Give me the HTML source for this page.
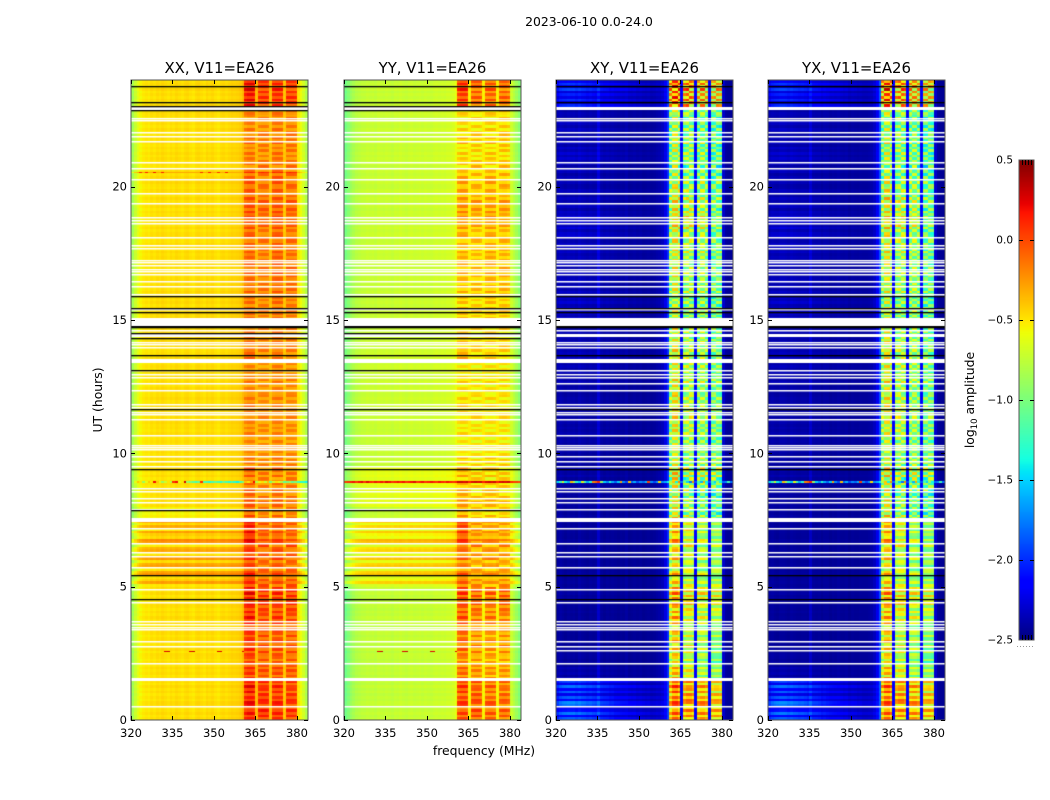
<!DOCTYPE html>
<html>
<head>
<meta charset="utf-8">
<title>2023-06-10 0.0-24.0</title>
<style>
html,body{margin:0;padding:0;background:#fff;}
#fig{position:relative;width:1050px;height:800px;overflow:hidden;background:#fff;font-family:"DejaVu Sans","Liberation Sans",sans-serif;}
canvas{position:absolute;display:block;}
svg{position:absolute;left:0;top:0;}
svg text{font-family:"DejaVu Sans","Liberation Sans",sans-serif;fill:#000;}
</style>
</head>
<body>
<div id="fig">
<canvas id="c0" width="177" height="640" style="left:131px;top:80px"></canvas>
<canvas id="c1" width="177" height="640" style="left:344px;top:80px"></canvas>
<canvas id="c2" width="177" height="640" style="left:556px;top:80px"></canvas>
<canvas id="c3" width="177" height="640" style="left:768px;top:80px"></canvas>
<canvas id="cbar" width="15" height="480" style="left:1019px;top:160px"></canvas>
<svg id="ov" width="1050" height="800">
<text x="589" y="26" font-size="12.4" text-anchor="middle">2023-06-10 0.0-24.0</text>
<text x="484" y="755" font-size="12.4" text-anchor="middle">frequency (MHz)</text>
<text transform="translate(102,400) rotate(-90)" font-size="12.4" text-anchor="middle">UT (hours)</text>
<text transform="translate(974,400) rotate(-90)" font-size="12.4" text-anchor="middle">log<tspan font-size="8.5" dy="3">10</tspan><tspan dy="-3"> amplitude</tspan></text>
</svg>
</div>
<script>
// ---- categories / ticks ----
const panelTitles = ["XX, V11=EA26","YY, V11=EA26","XY, V11=EA26","YX, V11=EA26"];
const freqTicks = [320,335,350,365,380];
const hourTicks = [0,5,10,15,20];
const cbarTicks = [-2.5,-2.0,-1.5,-1.0,-0.5,0.0,0.5];
const cbarTickLabels = ["\u22122.5","\u22122.0","\u22121.5","\u22121.0","\u22120.5","0.0","0.5"];

// ---- channel band membership, 320..384 MHz (-1 = outside the bright bands) ----
const channelBand = [
-1,-1,-1,-1,-1,-1,-1,-1,-1,-1, -1,-1,-1,-1,-1,-1,-1,-1,-1,-1,
-1,-1,-1,-1,-1,-1,-1,-1,-1,-1, -1,-1,-1,-1,-1,-1,-1,-1,-1,-1,
-1, 0,0,0,0, -1, 1,1,1,1, -1, 2,2,2,2, -1, 3,3,3,3, -1,-1,-1,-1,-1];

// ---- mean log10 amplitude per channel ----
const spectrumXX = [
-0.82,-0.68,-0.58,-0.52,-0.48,-0.46,-0.48,-0.44,-0.46,-0.43,
-0.45,-0.42,-0.44,-0.46,-0.43,-0.45,-0.42,-0.44,-0.46,-0.43,
-0.42,-0.45,-0.47,-0.43,-0.42,-0.44,-0.46,-0.42,-0.44,-0.42,
-0.45,-0.47,-0.43,-0.42,-0.44,-0.42,-0.40,-0.41,-0.40,-0.38,
-0.32,-0.10,-0.06,-0.06,-0.08,-0.32,-0.12,-0.10,-0.10,-0.12,
-0.34,-0.10,-0.08,-0.08,-0.10,-0.36,-0.10,-0.10,-0.10,-0.12,
-0.46,-0.55,-0.65,-0.78,-0.90];
const spectrumYY = [
-1.05,-0.98,-0.90,-0.85,-0.80,-0.78,-0.76,-0.76,-0.74,-0.75,
-0.74,-0.76,-0.73,-0.74,-0.75,-0.73,-0.74,-0.76,-0.73,-0.74,
-0.72,-0.74,-0.75,-0.73,-0.72,-0.74,-0.73,-0.72,-0.74,-0.72,
-0.73,-0.74,-0.72,-0.71,-0.72,-0.71,-0.72,-0.70,-0.70,-0.68,
-0.62,-0.32,-0.28,-0.28,-0.30,-0.55,-0.32,-0.30,-0.30,-0.34,
-0.55,-0.34,-0.32,-0.32,-0.34,-0.55,-0.32,-0.30,-0.30,-0.34,
-0.72,-0.80,-0.88,-0.98,-1.08];
const spectrumXY = [
-2.44,-2.42,-2.44,-2.46,-2.44,-2.45,-2.44,-2.46,-2.42,-2.44,
-2.45,-2.46,-2.44,-2.45,-2.44,-2.32,-2.44,-2.46,-2.44,-2.45,
-2.44,-2.45,-2.46,-2.44,-2.45,-2.42,-2.46,-2.45,-2.44,-2.45,
-2.44,-2.46,-2.45,-2.44,-2.45,-2.44,-2.42,-2.40,-2.36,-2.25,
-2.00,-1.00,-0.72,-0.70,-0.85,-2.15,-0.95,-0.85,-0.85,-0.95,
-2.15,-0.98,-0.90,-0.90,-1.00,-2.15,-1.00,-0.95,-0.95,-1.00,
-2.30,-2.42,-2.44,-2.44,-2.45];
const spectrumYX = [
-2.44,-2.43,-2.45,-2.46,-2.44,-2.44,-2.45,-2.46,-2.43,-2.44,
-2.45,-2.45,-2.44,-2.44,-2.45,-2.34,-2.44,-2.45,-2.44,-2.46,
-2.44,-2.44,-2.46,-2.44,-2.45,-2.43,-2.45,-2.45,-2.44,-2.46,
-2.44,-2.45,-2.45,-2.44,-2.44,-2.44,-2.43,-2.40,-2.35,-2.22,
-1.90,-0.98,-0.74,-0.72,-0.86,-2.15,-0.95,-0.86,-0.86,-0.96,
-2.15,-0.96,-0.92,-0.92,-1.02,-2.15,-1.00,-0.98,-0.96,-1.02,
-2.30,-2.42,-2.44,-2.45,-2.45];
const crossBump = [
0.7,0.85,0.95,1,1,1,1,0.95,0.95,0.9,
0.9,0.85,0.85,0.8,0.75,0.75,0.7,0.7,0.65,0.6,
0.6,0.55,0.55,0.5,0.5,0.45,0.45,0.4,0.4,0.35,
0.35,0.35,0.3,0.3,0.25,0.25,0.25,0.2,0.2,0.2,
0.1,0,0,0,0,0,0,0,0,0,
0,0,0,0,0,0,0,0,0,0,
0,0,0,0,0];

// ---- half-hourly levels, 0..24 h ----
const bgLevelXX = [
-.04,-.04,-.04,-.04,-.04,-.04,-.04,-.04,-.04,-.04,
.06,.08,.06,.08,.06,-.1,-.04,-.04,-.04,-.04,
-.04,-.04,-.03,-.04,-.03,-.04,-.04,-.04,-.02,-.02,
-.02,-.03,-.03,-.04,-.04,-.04,-.04,-.04,-.04,-.04,
-.03,-.04,-.04,-.04,-.04,-.04,-.04,-.03];
const bgLevelYY = [
0,0,0,0,0,0,0,0,0,0,
.2,.24,.22,.24,.22,.02,.12,.12,.12,.02,
.02,.02,.03,.03,.03,.03,.04,.04,.03,.03,
.03,.02,.02,.02,.02,.02,.03,.03,.02,.02,
.02,.02,.02,.02,.02,.02,.01,.01];
const crossLift = [
.46,.48,.42,.06,.03,.02,.01,.01,.02,.03,
.02,.02,.02,.02,.02,.03,.03,.04,.05,.04,
.05,.06,.06,.06,.05,.07,.08,.1,.07,.07,
.12,.13,.1,.09,.09,.1,.13,.14,.1,.08,
.07,.09,.12,.09,.1,.07,.3,.34];

const bandDevParallel = [
[.14,.16,.16,.08,.05,.1,.08,.12,.14,.18,.1,.04,.08,.16,.18,-.02,-.02,-.08,-.06,-.12,-.16,-.14,-.14,-.12,-.14,-.14,-.18,-.04,-.1,-.14,-.08,-.1,-.08,-.06,-.06,-.08,-.04,0,.02,-.04,-.04,-.1,-.14,-.1,-.14,-.14,.16,.2],
[.14,.14,.12,.02,0,.04,.02,.08,.1,.14,.02,-.04,0,.04,.02,-.1,-.08,-.14,-.12,-.14,-.16,-.16,-.14,-.14,-.14,-.16,-.18,-.1,-.12,-.14,-.1,-.1,-.08,-.08,-.06,-.08,-.06,-.02,0,-.06,-.06,-.08,-.12,-.1,-.12,-.12,.1,.12],
[.12,.12,.1,.02,0,.02,0,.06,.08,.12,0,-.02,.02,.02,0,-.08,-.04,-.1,-.1,-.1,-.12,-.14,-.12,-.14,-.12,-.14,-.14,-.08,-.1,-.12,-.06,-.06,-.04,-.02,-.02,-.04,-.02,.02,.02,-.04,-.02,-.06,-.1,-.08,-.1,-.1,.1,.12],
[.1,.1,.08,0,-.02,.02,0,.06,.1,.14,.02,-.04,0,.02,0,-.1,-.08,-.12,-.12,-.12,-.14,-.16,-.14,-.14,-.14,-.14,-.16,-.1,-.1,-.12,-.08,-.08,-.06,-.04,-.04,-.06,-.04,-.02,0,-.06,-.04,-.08,-.1,-.08,-.1,-.1,.1,.1]];
const bandDevCross = [
[.5,.55,.55,.3,.2,.25,.2,.3,.35,.45,.25,.15,.25,.35,.35,.1,.05,0,.1,0,0,.05,.1,.15,.1,.1,.05,.15,.05,0,0,-.05,0,.05,.05,.05,.1,.15,.1,.05,-.05,-.1,-.1,-.05,-.1,-.05,.5,.55],
[.5,.55,.5,.2,.1,.15,.1,.2,.3,.35,.15,.1,.15,.2,.25,0,-.05,-.05,0,-.05,0,.05,.1,.1,.05,.05,.05,.1,0,-.05,-.05,-.05,0,0,0,.05,.1,.2,.1,0,-.1,-.1,-.05,-.05,-.1,-.05,.45,.5],
[.55,.55,.5,.1,.05,.1,.05,.15,.2,.3,.1,.05,.1,.1,.1,-.05,-.1,-.05,.1,.05,0,0,.05,.05,0,.05,.05,.1,.05,0,.05,0,.05,.05,.05,.05,.1,.2,.1,0,0,-.05,-.05,-.05,-.1,-.05,.4,.45],
[.5,.5,.4,.05,-.05,0,.05,.15,.25,.35,.15,.05,.1,.1,.1,-.15,-.15,-.1,.05,.05,-.05,-.05,0,0,-.05,0,-.05,0,-.05,-.1,-.05,-.1,-.05,-.05,-.05,-.05,-.05,0,-.05,-.1,-.1,-.15,-.15,-.1,-.15,-.1,.35,.4]];

// ---- row-to-row striping at 0.1 h, hundredths of a dex ----
const rippleA = [
12,-14,20,-8,-18,16,22,-12,10,-20,
18,-10,24,-16,8,20,-22,14,-6,16,
-14,10,-20,6,14,-24,18,-10,-16,22,
8,-18,12,20,-10,-22,16,-6,24,-12,
14,-20,8,18,-16,10,-24,22,-8,12,
-18,16,-6,-14,22,10,-20,14,8,-16,
20,-10,-18,12,6,-22,18,24,-14,-8,
16,-20,10,-12,14,-6,18,-16,8,-10,
12,-8,16,-14,6,-18,20,-10,14,-6,
-22,18,-12,8,20,-16,10,-6,14,-12,
6,-10,14,-8,10,-14,8,12,-10,6,
-12,8,16,-6,-14,10,-8,12,6,-10,
14,-8,-12,10,6,-14,16,-6,8,-12,
10,-6,14,-10,8,12,-14,6,-8,10,
-12,14,-6,8,-10,16,-8,12,-14,6,
10,-14,8,-6,12,-16,14,-8,6,-12,
16,-10,8,-14,12,6,-10,14,-8,-12,
8,14,-12,10,-6,16,-14,8,12,-10,
-16,12,8,-14,18,-10,6,-12,16,-8,
14,-18,10,8,-12,20,-14,6,16,-10,
-12,18,-8,14,-16,10,12,-20,8,-6,
14,-10,18,-12,6,-16,20,-8,12,-14,
-10,16,-14,8,12,-18,6,14,-10,-8,
20,-14,22,-10,16,-18,24,-12,18,-8];
const rippleB = [
-16,18,-8,22,-12,-20,14,18,-10,16,
-22,12,8,-18,20,-14,10,-8,18,-12,
14,-20,16,-10,-6,18,-16,22,-12,8,
-14,20,-10,6,16,-18,-8,14,-20,10,
-6,12,-18,20,8,-14,16,-22,14,-10,
18,-12,10,-20,-8,14,16,-18,6,12,
-14,18,8,-16,-10,20,-12,14,-20,6,
-8,14,-16,10,-6,18,-10,6,-14,12,
-10,14,-6,12,-16,8,-14,16,-8,10,
16,-14,18,-10,-12,14,-6,10,-16,8,
-8,12,-6,10,-14,8,-10,-6,14,-8,
10,-12,-6,14,10,-8,12,-10,-6,8,
-10,12,8,-14,-6,10,-12,14,-8,6,
-12,8,-10,12,-6,-10,8,-14,12,-6,
10,-8,12,-14,6,-10,14,-6,10,-8,
-12,8,-10,14,-6,10,-12,6,-14,8,
-10,14,-6,12,-14,-8,12,-6,10,14,
-12,-8,10,-14,8,-10,12,-6,-10,14,
12,-10,-14,8,-12,14,-6,10,-14,6,
-10,14,-8,-12,16,-6,10,-14,-8,12,
14,-12,10,-16,12,-8,-14,16,-6,10,
-12,8,-14,16,-10,12,-16,10,-6,12,
8,-14,12,-10,-8,14,-12,-6,12,10,
-18,16,-14,20,-12,14,-20,18,-8,14];

// ---- single interference rows, log10 amplitude per channel (null = keep underlying cell) ----
const rfiRowNineXX = [
-0.9,-0.6,-0.4,-0.5,-0.9,-0.6,-0.4,-0.5,0.2,-0.4,-0.6,-0.9,-0.7,-0.5,-0.8,0.1,0.2,-0.6,-0.5,0.3,
-0.9,-1.0,-1.1,-1.2,-1.1,0.1,-1.2,-1.2,-1.3,-1.2,-1.1,-1.2,-1.3,-1.1,-1.2,-1.3,-1.2,-1.3,-1.4,-1.2,
-1.0,-0.4,-0.5,-0.3,0.2,-0.8,-0.6,-0.5,-0.7,-0.4,-1.0,-0.7,-0.5,-0.6,-0.8,-1.1,-1.0,-0.9,-1.1,-1.0,
-1.2,-1.3,-1.3,-1.4,-1.4];
const rfiRowNineYY = [
0.05,0.1,0.15,0.2,0.1,0.2,0.25,0.1,0.25,0.15,0.1,0.2,0.15,0.2,0.1,0.25,0.2,0.1,0.15,0.2,
0.15,0.2,0.1,0.15,0.2,0.25,0.1,0.15,0.2,0.1,0.15,0.2,0.15,0.1,0.2,0.15,0.1,0.2,0.15,0.1,
0.15,0.3,0.3,0.25,0.3,0.15,0.25,0.3,0.25,0.3,0.15,0.25,0.3,0.25,0.3,0.15,0.25,0.3,0.25,0.3,
0.1,0.05,0.05,0,0];
const rfiRowNineXY = [
-1.5,-1.2,-0.7,-1.4,-1.6,-0.4,-0.8,-1.3,-1.5,-0.6,-1.2,-1.6,-1.3,-0.2,-0.1,0.1,-0.9,-1.5,-1.7,-1.3,
-1.6,-1.8,-1.5,-0.3,-1.7,-1.9,-0.4,-1.8,-1.6,-1.9,-1.7,-1.8,-1.6,0.0,-1.7,-1.9,-1.7,-0.5,-1.7,-1.6,
-1.4,-0.8,-0.4,-1.4,-0.2,-1.8,-1.0,-1.5,-1.8,-0.2,-1.9,-1.2,-1.6,-0.3,-1.4,-1.9,-1.2,-1.5,-0.9,-1.4,
-1.8,-1.7,-1.2,-1.8,-1.5];
const dashRowTwoSix = [
null,null,null,null,null,null,null,null,null,null,
null,null,0.25,0.3,null,null,null,null,null,null,
null,0.25,0.3,null,null,null,null,null,null,null,
null,0.25,0.25,null,null,null,null,null,null,null,
0.25,null,null,null,null,null,null,null,null,null,
null,null,null,null,null,null,null,null,null,null,
null,null,null,null,null];
const rowTwentyPointSixXX = [
-0.6,-0.4,-0.3,0.1,-0.3,0.15,-0.3,-0.3,0.2,-0.3,-0.3,0.15,-0.3,-0.3,-0.3,-0.3,-0.3,-0.3,-0.3,-0.3,
-0.3,-0.3,-0.3,-0.3,-0.3,0.1,-0.3,-0.3,0.15,-0.3,-0.3,0.1,-0.3,-0.3,0.15,-0.3,-0.3,-0.3,-0.3,-0.3,
-0.3,0.1,0.1,0.15,0.1,-0.2,0.1,0.15,0.1,0.1,-0.2,0.15,0.1,0.1,0.15,-0.2,0.1,0.15,0.1,0.1,
-0.3,-0.4,-0.5,-0.6,-0.7];
const specialRowHours = {nine:8.98, twoSix:2.57, twenty:20.55};

// ---- flagged rows, UT hours ----
const whiteFlagHours = [0.49,2.1,2.74,2.92,3.37,3.45,3.56,3.68,4.39,4.88,5.7,6.11,6.26,6.6,7.16,7.88,8.14,8.29,8.55,8.66,9.49,9.68,9.86,10.13,10.2,10.28,10.65,11.25,11.44,11.51,11.7,11.81,12.34,12.6,12.83,12.94,13.09,13.95,14.06,14.14,14.59,15.38,15.94,16.24,16.43,16.69,16.8,16.88,17.03,17.14,17.21,17.66,17.78,18.08,18.6,18.71,18.83,19.35,19.73,20.25,20.66,20.89,21.68,21.86,22.01,22.47,22.55];
const whiteFlagHoursCrossOnly = [2.6];
const whiteBandStart = [1.46,7.44,13.39,14.36,14.74,22.86];
const whiteBandEnd = [1.56,7.58,13.54,14.48,15.07,23.0];
const blackHoursParallel = [4.5,5.4,7.84,9.38,11.63,13.09,13.65,14.31,14.5,14.7,14.74,15.27,15.41,15.86,23.0,22.86,23.16,23.73];
const blackHoursCross = [4.5,5.4,9.38,11.63,13.65,14.7,14.74,15.27,15.41,15.86,23.16,23.73];

const plotTop=80, plotH=640, plotW=177;
const panelLeft=[131,344,556,768];
function xLocal(f){return (f-320)/64*plotW;}
function yLocal(h){return (24-h)/24*plotH;}
function jet(t){
  t=Math.max(0,Math.min(1,t));
  function lerp(pts){
    for(let i=1;i<pts.length;i++){
      if(t<=pts[i][0]){
        const a=pts[i-1],b=pts[i];
        return a[1]+(b[1]-a[1])*(t-a[0])/(b[0]-a[0]);
      }
    }
    return pts[pts.length-1][1];
  }
  const r=lerp([[0,0],[.35,0],[.66,1],[.89,1],[1,.5]]);
  const g=lerp([[0,0],[.125,0],[.375,1],[.64,1],[.91,0],[1,0]]);
  const b=lerp([[0,.5],[.11,1],[.34,1],[.65,0],[1,0]]);
  return "rgb("+Math.round(r*255)+","+Math.round(g*255)+","+Math.round(b*255)+")";
}
function colorOf(v){return jet((v+2.5)/3);}

function cellValue(panel,c,r){
  const seg=Math.min(47,Math.floor(r/5));
  const band=channelBand[c];
  if(panel<2){
    const ripple=(band===1||band===3)?rippleB[r]:rippleA[r];
    const spec=panel===0?spectrumXX:spectrumYY;
    const bg=panel===0?bgLevelXX:bgLevelYY;
    if(band>=0) return spec[c]+bandDevParallel[band][seg]*(panel===0?1:1.5)+ripple*(panel===0?0.007:0.008);
    return spec[c]+bg[seg]+rippleA[r]*(seg>=10&&seg<15?0.007:0.001);
  }
  const spec=panel===2?spectrumXY:spectrumYX;
  if(band>=0){
    if(seg<15){
      return spec[c]+bandDevCross[band][seg]+((band%2===1)?rippleB[r]:rippleA[r])*0.014;
    }
    const useB=(((c>>1)+band+(panel===3?1:0))%2)===1;
    return spec[c]+bandDevCross[band][seg]+(useB?rippleB[r]:rippleA[r])*0.022;
  }
  return spec[c]+crossLift[seg]*crossBump[c]*(1+rippleA[r]/40);
}
function drawSpecialRow(ctx,hour,values,h){
  const y=Math.round(yLocal(hour));
  for(let c=0;c<65;c++){
    if(values[c]===null) continue;
    const x0=Math.round(xLocal(320+c)), x1=Math.round(xLocal(321+c));
    ctx.fillStyle=colorOf(values[c]);
    ctx.fillRect(x0,y,x1-x0,h);
  }
}
function flagRow(ctx,h,thick){
  ctx.fillRect(0,Math.round(yLocal(h)-0.7),plotW,thick);
}
function drawPanel(panel){
  const ctx=document.getElementById("c"+panel).getContext("2d");
  for(let r=0;r<240;r++){
    const y0=Math.round(yLocal((r+1)/10)), y1=Math.round(yLocal(r/10));
    for(let c=0;c<65;c++){
      const x0=Math.round(xLocal(320+c)), x1=Math.round(xLocal(321+c));
      ctx.fillStyle=colorOf(cellValue(panel,c,r));
      ctx.fillRect(x0,y0,x1-x0,y1-y0);
    }
  }
  drawSpecialRow(ctx,specialRowHours.nine,panel===0?rfiRowNineXX:(panel===1?rfiRowNineYY:rfiRowNineXY),2);
  if(panel<2) drawSpecialRow(ctx,specialRowHours.twoSix,dashRowTwoSix,1);
  if(panel===0) drawSpecialRow(ctx,specialRowHours.twenty,rowTwentyPointSixXX,1);
  ctx.fillStyle="#fff";
  whiteFlagHours.forEach(function(h){flagRow(ctx,h,1.5);});
  if(panel>=2) whiteFlagHoursCrossOnly.forEach(function(h){flagRow(ctx,h,1.5);});
  whiteBandStart.forEach(function(s,i){
    const a=Math.round(yLocal(whiteBandEnd[i])), b=Math.round(yLocal(s));
    ctx.fillRect(0,a,plotW,b-a);
  });
  ctx.fillStyle="#000";
  (panel<2?blackHoursParallel:blackHoursCross).forEach(function(h){flagRow(ctx,h,1.3);});
}
const NS="http://www.w3.org/2000/svg";
const ov=document.getElementById("ov");
function line(x1,y1,x2,y2,name,stroke){
  const l=document.createElementNS(NS,"line");
  l.setAttribute("x1",x1);l.setAttribute("y1",y1);l.setAttribute("x2",x2);l.setAttribute("y2",y2);
  l.setAttribute("stroke",stroke||"#000");l.setAttribute("stroke-width","1");
  
  
  ov.appendChild(l);
  return l;
}
function label(x,y,txt,anchor,size,name){
  const t=document.createElementNS(NS,"text");
  t.setAttribute("x",x);t.setAttribute("y",y);t.setAttribute("text-anchor",anchor);t.setAttribute("font-size",size);
  t.textContent=txt;
  
  
  ov.appendChild(t);
}
function drawAxes(panel){
  const L=panelLeft[panel];
  const plotBottom=plotTop+plotH;
  const box=document.createElementNS(NS,"rect");
  box.setAttribute("x",L);box.setAttribute("y",plotTop);box.setAttribute("width",plotW);box.setAttribute("height",plotH);
  box.setAttribute("fill","none");box.setAttribute("stroke","#555");box.setAttribute("stroke-width","1");
  
  
  ov.appendChild(box);
  label(L+plotW/2,plotTop-7,panelTitles[panel],"middle",14.9,"panel-title");
  freqTicks.forEach(function(f){
    const x=Math.round(L+xLocal(f))+0.5;
    line(x,plotBottom,x,plotBottom-4,"x-tick");
    line(x,plotTop,x,plotTop+4,"x-tick-top");
    label(L+xLocal(f),plotBottom+17,String(f),"middle",11.5,"x-tick-label");
  });
  hourTicks.forEach(function(h){
    const y=Math.round(plotTop+yLocal(h))+0.5;
    line(L,y,L+4,y,"y-tick");
    line(L+plotW,y,L+plotW-4,y,"y-tick-right");
    label(L-4,plotTop+yLocal(h)+4,String(h),"end",11.5,"y-tick-label");
  });
}
function drawColorbar(){
  const ctx=document.getElementById("cbar").getContext("2d");
  for(let i=0;i<480;i++){
    ctx.fillStyle=jet(1-(i+0.5)/480);
    ctx.fillRect(0,i,15,1);
  }
  const cbL=1019,cbT=160,cbH=480,cbW=15;
  const box=document.createElementNS(NS,"rect");
  box.setAttribute("x",cbL);box.setAttribute("y",cbT);box.setAttribute("width",cbW);box.setAttribute("height",cbH);
  box.setAttribute("fill","none");box.setAttribute("stroke","#555");box.setAttribute("stroke-width","1");
  
  
  ov.appendChild(box);
  cbarTicks.forEach(function(v,i){
    const y=cbT+cbH-(v+2.5)/3*cbH;
    const yy=Math.round(y)+0.5;
    if(i>0&&i<cbarTicks.length-1){
      line(cbL,yy,cbL+4,yy,"colorbar-tick");
      line(cbL+cbW,yy,cbL+cbW-4,yy,"colorbar-tick-right");
    }
    label(cbL-6,y+3.5,cbarTickLabels[i],"end",10.5,"colorbar-tick-label");
  });
  [0.2,0.4,0.6,0.8].forEach(function(p){
    const x=Math.round(cbL+p*cbW)+0.5;
    line(x,cbT,x,cbT+5,"colorbar-minor-top");
    line(x,cbT+cbH,x,cbT+cbH-5,"colorbar-minor-bottom");
  });
  const d=line(cbL-2,646.5,cbL+cbW+1,646.5,"colorbar-dotted-ticks","#999");
  d.setAttribute("stroke-dasharray","1 2");
}
for(let p=0;p<4;p++){drawPanel(p);drawAxes(p);}
drawColorbar();
</script>
</body>
</html>
